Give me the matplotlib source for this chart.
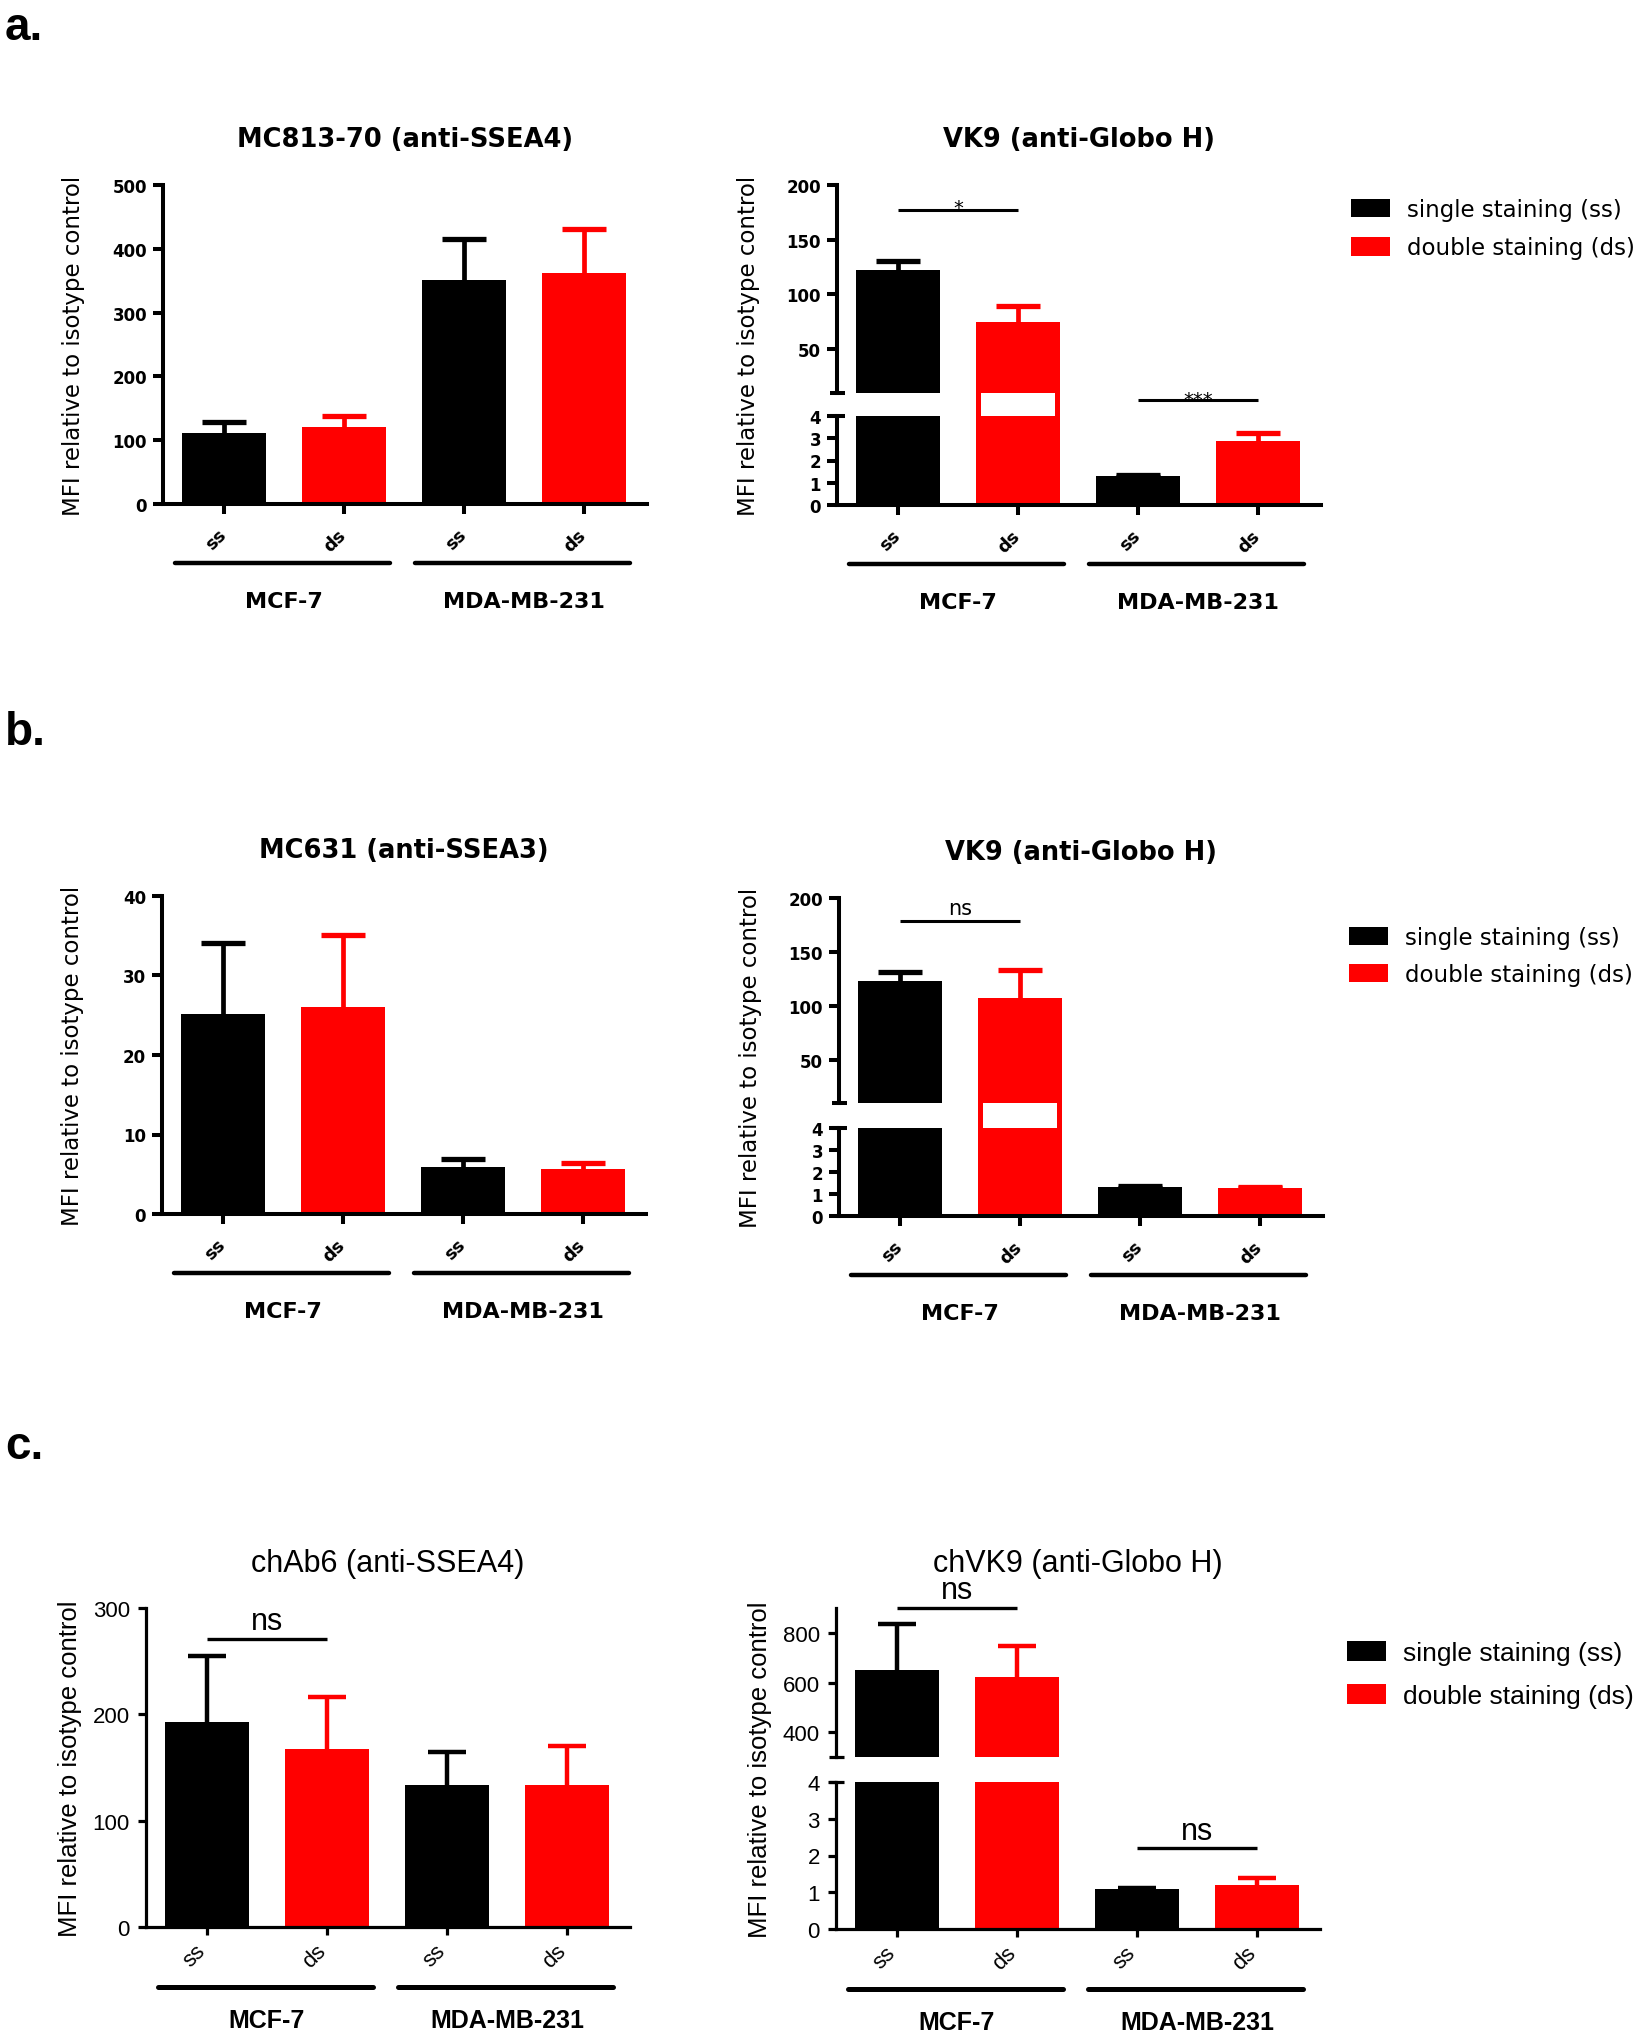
import numpy as np
import matplotlib
matplotlib.use('Agg')
import matplotlib.pyplot as plt
from matplotlib import transforms
from matplotlib.patches import Patch, Rectangle
from matplotlib.font_manager import FontProperties

W, H, DPI = 1639, 2040, 100

# ---------------- data ----------------
conditions = ['ss', 'ds', 'ss', 'ds']
cell_lines = ['MCF-7', 'MDA-MB-231']
legend_labels = ['single staining (ss)', 'double staining (ds)']
bar_colors = ['#000000', '#ff0000', '#000000', '#ff0000']
ylabel_text = 'MFI relative to isotype control'

a1_title = 'MC813-70 (anti-SSEA4)'
a1_mean = [111.6, 120.0, 350.5, 362.7]
a1_err = [17.4, 18.0, 65.2, 68.1]
a1_yticks = [0, 100, 200, 300, 400, 500]

a2_title = 'VK9 (anti-Globo H)'
a2_mean = [122.7, 75.3, 1.31, 2.88]
a2_err = [8.3, 14.3, 0.05, 0.37]
a2_top_lim = [10, 200]
a2_yticks_top = [50, 100, 150, 200]
a2_yticks_low = [0, 1, 2, 3, 4]
a2_sig = ['*', '***']

b1_title = 'MC631 (anti-SSEA3)'
b1_mean = [25.2, 26.0, 5.9, 5.6]
b1_err = [8.9, 9.1, 1.0, 0.8]
b1_yticks = [0, 10, 20, 30, 40]

b2_title = 'VK9 (anti-Globo H)'
b2_mean = [123.3, 107.7, 1.32, 1.29]
b2_err = [8.3, 25.5, 0.03, 0.03]
b2_top_lim = [10, 200]
b2_yticks_top = [50, 100, 150, 200]
b2_yticks_low = [0, 1, 2, 3, 4]
b2_sig = ['ns']

c1_title = 'chAb6 (anti-SSEA4)'
c1_mean = [193.2, 167.3, 133.3, 133.3]
c1_err = [61.5, 48.6, 31.1, 36.9]
c1_yticks = [0, 100, 200, 300]
c1_sig = ['ns']

c2_title = 'chVK9 (anti-Globo H)'
c2_mean = [649.0, 621.0, 1.09, 1.21]
c2_err = [186.0, 127.0, 0.03, 0.19]
c2_top_lim = [300, 900]
c2_yticks_top = [400, 600, 800]
c2_yticks_low = [0, 1, 2, 3, 4]
c2_sig = ['ns', 'ns']

# ---------------- styles ----------------
AB = dict(family='DejaVu Sans', tick_fs=12, tick_w='bold', title_fs=18.5, title_w='bold',
          ylab_fs=16.5, xlab_fs=13, xlab_w='bold', grp_fs=16, grp_w='bold',
          leg_fs=16.5, spine=2.9, ticklen=7.2, ypad=4.3, xpad=8.0, xshift=6,
          cap=15.5, capthick=3.8, elw=3.4, grp_lw=3.2, grp_off=59, grplab_off=97,
          sig_lw=2.2, title_off=46, ylab_off=89)
CS = dict(family='Liberation Sans', tick_fs=16, tick_w='normal', title_fs=22, title_w='normal',
          ylab_fs=18.5, xlab_fs=16, xlab_w='normal', grp_fs=18, grp_w='bold',
          leg_fs=19, spine=2.3, ticklen=5.8, ypad=5.8, xpad=3.6, xshift=3,
          cap=14, capthick=3.2, elw=3.2, grp_lw=3.6, grp_off=60, grplab_off=93,
          sig_lw=2.4, title_off=45, ylab_off=76)

fig = plt.figure(figsize=(W / DPI, H / DPI), dpi=DPI)
fig.patch.set_facecolor('white')
AXW = 484
x = np.arange(len(conditions))
XLIM = (-61 / 120, 3 + 63 / 120)
BARW = 0.708


def add_ax(left, top, bottom):
    return fig.add_axes([left / W, 1 - bottom / H, AXW / W, (bottom - top) / H])


def base_style(ax, st, show_x):
    for s in ['top', 'right']:
        ax.spines[s].set_visible(False)
    ax.spines['left'].set_linewidth(st['spine'])
    ax.spines['bottom'].set_linewidth(st['spine'])
    ax.set_xlim(*XLIM)
    ax.tick_params(axis='y', direction='out', length=st['ticklen'], width=st['spine'],
                   pad=st['ypad'])
    if show_x:
        ax.set_xticks(x)
        ax.set_xticklabels(conditions, rotation=45, ha='right', va='top',
                           fontfamily=st['family'], fontsize=st['xlab_fs'],
                           fontweight=st['xlab_w'])
        ax.tick_params(axis='x', direction='out', length=st['ticklen'], width=st['spine'],
                       pad=st['xpad'])
        shift = transforms.ScaledTranslation(st['xshift'] / DPI, 0, fig.dpi_scale_trans)
        for lab in ax.get_xticklabels():
            lab.set_transform(lab.get_transform() + shift)
    else:
        ax.spines['bottom'].set_visible(False)
        ax.set_xticks([])
    ax.patch.set_alpha(0)


def set_yt(ax, ticks, st):
    ax.set_yticks(ticks)
    ax.set_yticklabels([str(t) for t in ticks], fontfamily=st['family'],
                       fontsize=st['tick_fs'], fontweight=st['tick_w'])


def draw_bars(ax, mean, err, st):
    ax.bar(x, mean, width=BARW, color=bar_colors, linewidth=0, zorder=2)
    for xi, m, e, c in zip(x, mean, err, bar_colors):
        ax.errorbar(xi, m, yerr=e, fmt='none', ecolor=c, elinewidth=st['elw'],
                    capsize=st['cap'], capthick=st['capthick'], zorder=1)


def below(ax, px):
    return (transforms.blended_transform_factory(ax.transData, ax.transAxes)
            + transforms.ScaledTranslation(0, -px / DPI, fig.dpi_scale_trans))


def groups(ax, st):
    for gi, name in enumerate(cell_lines):
        p0, p1 = x[2 * gi], x[2 * gi + 1]
        ax.plot([p0 - 0.41, p1 + 0.38], [0, 0], transform=below(ax, st['grp_off']),
                color='k', lw=st['grp_lw'], solid_capstyle='round', clip_on=False)
        ax.text((p0 + p1) / 2, 0, name, transform=below(ax, st['grplab_off']),
                ha='center', va='center', fontfamily=st['family'],
                fontsize=st['grp_fs'], fontweight=st['grp_w'])


def title_ylabel(left, top, bottom, title, st):
    fig.text((left + AXW / 2) / W, 1 - (top - st['title_off']) / H, title,
             ha='center', va='center', fontfamily=st['family'],
             fontsize=st['title_fs'], fontweight=st['title_w'])
    fig.text((left - st['ylab_off']) / W, 1 - ((top + bottom) / 2) / H, ylabel_text,
             rotation=90, ha='center', va='center', fontfamily=st['family'],
             fontsize=st['ylab_fs'])


def sig(ax, x0, x1, y_line, y_text, label, st, fs, weight='normal'):
    ax.plot([x0, x1], [y_line, y_line], color='k', lw=st['sig_lw'],
            solid_capstyle='butt', clip_on=False, zorder=3)
    ax.text((x0 + x1) / 2, y_text, label, ha='center', va='baseline', fontsize=fs,
            fontfamily=st['family'], fontweight=weight, clip_on=False)


def single_panel(left, top, bottom, title, mean, err, yticks, st):
    ax = add_ax(left, top, bottom)
    base_style(ax, st, True)
    ax.set_ylim(yticks[0], yticks[-1])
    set_yt(ax, yticks, st)
    draw_bars(ax, mean, err, st)
    groups(ax, st)
    title_ylabel(left, top, bottom, title, st)
    return ax


def broken_panel(left, top, top_bottom, low_top, bottom, title, mean, err,
                 top_lim, top_ticks, low_ticks, st, gap_fill):
    axt = add_ax(left, top, top_bottom)
    axl = add_ax(left, low_top, bottom)
    base_style(axt, st, False)
    base_style(axl, st, True)
    axt.set_ylim(*top_lim)
    set_yt(axt, top_ticks, st)
    axl.set_ylim(low_ticks[0], low_ticks[-1])
    set_yt(axl, low_ticks, st)
    draw_bars(axt, mean, err, st)
    draw_bars(axl, mean, err, st)
    for ax, yy in [(axt, 0), (axl, 1)]:
        ax.plot([-7 / AXW, 8 / AXW], [yy, yy], transform=ax.transAxes, color='k',
                lw=st['spine'], clip_on=False, solid_capstyle='butt')
    if gap_fill:
        low_h = bottom - low_top
        ymax = low_ticks[-1]
        gap_top = ymax + (low_top - top_bottom) * (ymax - low_ticks[0]) / low_h
        inset = 5 / 120
        for xi, m, c in zip(x, mean, bar_colors):
            if c != '#000000' and m > top_lim[0]:
                axl.add_patch(Rectangle((xi - BARW / 2, ymax), BARW, gap_top - ymax,
                                        facecolor=c, edgecolor='none', clip_on=False, zorder=2))
                axl.add_patch(Rectangle((xi - BARW / 2 + inset, ymax), BARW - 2 * inset,
                                        gap_top - ymax, facecolor='white', edgecolor='none',
                                        clip_on=False, zorder=2.1))
    groups(axl, st)
    title_ylabel(left, top, bottom, title, st)
    return axt, axl


def legend(x_px, y_px, st, ls, hh):
    fs_px = st['leg_fs'] * DPI / 72
    handles = [Patch(facecolor=bar_colors[0], edgecolor='none'),
               Patch(facecolor=bar_colors[1], edgecolor='none')]
    fig.legend(handles, legend_labels, loc='upper left',
               bbox_to_anchor=(x_px / W, 1 - y_px / H), frameon=False, borderpad=0,
               borderaxespad=0, handlelength=39 / fs_px, handleheight=hh / fs_px,
               handletextpad=17 / fs_px, labelspacing=ls,
               prop=FontProperties(family=st['family'], size=st['leg_fs']))


# ---------------- panel a ----------------
single_panel(163, 186, 505, a1_title, a1_mean, a1_err, a1_yticks, AB)
at, al = broken_panel(837, 186, 394, 417, 506, a2_title, a2_mean, a2_err,
                      a2_top_lim, a2_yticks_top, a2_yticks_low, AB, True)
sig(at, 0, 1, 177.4, 174.0, a2_sig[0], AB, 14)
sig(al, 2, 3, 4.74, 4.50, a2_sig[1], AB, 14)
legend(1351, 199, AB, 0.66, 20)

# ---------------- panel b ----------------
single_panel(162, 897, 1215, b1_title, b1_mean, b1_err, b1_yticks, AB)
bt, bl = broken_panel(839, 899, 1104, 1129, 1217, b2_title, b2_mean, b2_err,
                      b2_top_lim, b2_yticks_top, b2_yticks_low, AB, True)
sig(bt, 0, 1, 179.1, 184.9, b2_sig[0], AB, 15)
legend(1349, 927, AB, 0.6, 20)

# ---------------- panel c ----------------
c1 = single_panel(146, 1609, 1928, c1_title, c1_mean, c1_err, c1_yticks, CS)
sig(c1, 0, 1, 270.8, 280.2, c1_sig[0], CS, 22)
ct, cl = broken_panel(836, 1609, 1758, 1783, 1930, c2_title, c2_mean, c2_err,
                      c2_top_lim, c2_yticks_top, c2_yticks_low, CS, False)
sig(ct, 0, 1, 900, 940, c2_sig[0], CS, 22)
sig(cl, 2, 3, 2.2, 2.45, c2_sig[1], CS, 22)
legend(1347, 1642, CS, 0.7, 21)

# ---------------- panel letters ----------------
for lab, yb in [('a.', 40), ('b.', 745), ('c.', 1459)]:
    fig.text(5 / W, 1 - yb / H, lab, fontfamily='Liberation Sans', fontweight='bold',
             fontsize=33, va='baseline', ha='left')

fig.savefig('out.png', dpi=DPI, facecolor='white')
